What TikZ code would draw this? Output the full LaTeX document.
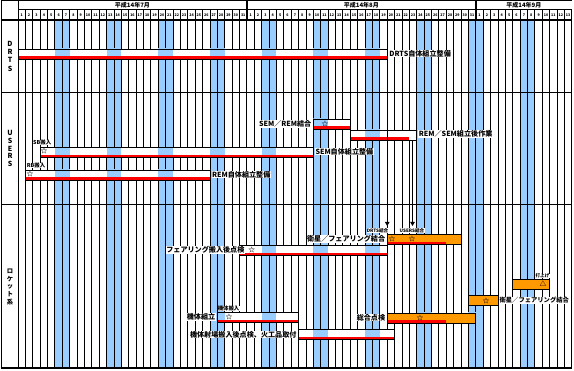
\documentclass[tikz,border=0pt]{standalone}
\usepackage{fontspec}
\setmainfont{Noto Sans CJK JP}
\usepackage{xcolor}
\usepackage{tikz}
\usetikzlibrary{arrows.meta, positioning}
\definecolor{kyuujitsu}{RGB}{153,204,255}
\definecolor{daidai}{RGB}{255,153,0}
\definecolor{aka}{RGB}{255,0,0}
\def\haba{7.385}
\newcommand{\yasumi}{%
  \foreach \d in {6,7,13,14,20,21,27,28,34,35,41,42,48,49,55,56,62,63,69,70}
    \fill[kyuujitsu] ({18+(\d-1)*\haba},20) rectangle ({18+\d*\haba},368);%
}
\newcommand{\sagyo}[5]{%
  \fill[white] ({18+#1*\haba},#3) rectangle ({18+#2*\haba},#3+10);
  \begin{scope}
    \clip ({18+#1*\haba},#3) rectangle ({18+#2*\haba},#3+10);
    \yasumi
  \end{scope}
  \path[fill=#5] ({18+#1*\haba},#3) rectangle ({18+#2*\haba},#3+10);
  \fill[aka] ({18+#1*\haba},#3+7.5) rectangle ({18+#4*\haba},#3+10);
  \draw[line width=0.8pt] ({18+#1*\haba},#3) rectangle ({18+#2*\haba},#3+10);%
}

\begin{document}
\begin{tikzpicture}[x=1pt, y=-1pt,
    mei/.style={font=\fontsize{7.1}{7.1}\selectfont\bfseries, inner sep=0.4pt, fill=white},
    komei/.style={font=\fontsize{4.6}{4.6}\selectfont\bfseries, inner sep=0.2pt, fill=white},
    hannyu/.style={font=\fontsize{5.4}{5.4}\selectfont\bfseries, inner sep=0.2pt, fill=white},
    hoshi/.style={font=\fontsize{6.8}{6.8}\selectfont\bfseries, inner sep=0pt},
    hizuke/.style={font=\fontsize{3.6}{3.6}\selectfont\bfseries, inner sep=0pt},
    tsuki/.style={font=\fontsize{6}{6}\selectfont\bfseries, inner sep=0pt},
    kubun/.style={align=center, inner sep=0pt},
    yajirushi/.style={line width=1pt, -{Triangle[width=4.5pt,length=4pt]}}]
  \useasboundingbox (0,0) rectangle (574,371);
  \fill[white] (0,0) rectangle (574,371);
  \yasumi
  \foreach \n in {0,...,75}
    \draw[line width=1pt] ({18+\n*\haba},10) -- ({18+\n*\haba},368);
  \draw[line width=1pt] (1,1) -- ({18+75*\haba},1);
  \draw[line width=1pt] (1,1) -- (1,368);
  \draw[line width=1pt] (18,1) -- (18,10);
  \draw[line width=1pt] (18,10) -- ({18+75*\haba},10);
  \draw[line width=1pt] (1,93) -- ({18+75*\haba},93);
  \draw[line width=1pt] (1,205) -- ({18+75*\haba},205);
  \draw[line width=2pt] (0.5,20.5) -- ({18+75*\haba},20.5);
  \draw[line width=2pt] (0.5,368.5) -- ({18+75*\haba},368.5);
  \foreach \n in {31,62}
    \draw[line width=2pt] ({18+\n*\haba},0) -- ({18+\n*\haba},20);

  \node[tsuki] (tsuki7) at ({18+15.5*\haba},5.5) {平成14年7月};
  \node[tsuki] (tsuki8) at ({18+46.5*\haba},5.5) {平成14年8月};
  \node[tsuki] (tsuki9) at ({18+68.5*\haba},5.5) {平成14年9月};
  \foreach \t/\m in {0/31,31/31,62/13}
    \foreach \n in {1,...,\m}
      \node[hizuke] (hi-\t-\n) at ({18+(\t+\n-0.5)*\haba},15.5) {\n};

  \node[kubun, font=\fontsize{7}{8.3}\selectfont\bfseries] (drtsKubun) at (10,56) {D\\R\\T\\S};
  \node[kubun, font=\fontsize{7}{7.8}\selectfont\bfseries] (usersKubun) at (10,148.5) {U\\S\\E\\R\\S};
  \node[kubun, font=\fontsize{6.3}{7.8}\selectfont\bfseries] (rocketKubun) at (10,287) {ロ\\ケ\\ッ\\ト\\系};

  \sagyo{0}{50}{49}{50}{none}
  \sagyo{40}{45}{119}{45}{none}
  \sagyo{45}{50}{130}{50}{none}
  \sagyo{50}{54}{130}{53}{none}
  \sagyo{3}{40}{147.3}{40}{none}
  \sagyo{1}{26}{170}{26}{none}
  \sagyo{50}{60}{234.3}{58}{daidai}
  \sagyo{30}{50}{245.5}{50}{none}
  \sagyo{67}{72}{279.5}{67}{daidai}
  \sagyo{61}{65}{295.5}{61}{daidai}
  \sagyo{50}{62}{313}{58}{daidai}
  \sagyo{27}{38}{312.3}{38}{none}
  \sagyo{38}{51}{329.5}{51}{none}

  \node[mei, anchor=west] (drtsMei) at ({18+50*\haba+1.5},53.5) {DRTS自体組立整備};
  \node[mei, anchor=east] (ketsugoMei) at ({18+40*\haba-1.5},124) {SEM／REM結合};
  \node[mei, anchor=west] (sagyoMei) at ({18+54*\haba+1.5},134) {REM／SEM組立後作業};
  \node[mei, anchor=west] (semMei) at ({18+40*\haba+1.5},151.5) {SEM自体組立整備};
  \node[hannyu, anchor=west] (sbMei) at ({18+2*\haba},142.5) {SB搬入};
  \node[mei, anchor=west] (remMei) at ({18+26*\haba+1.5},174.5) {REM自体組立整備};
  \node[hannyu, anchor=west] (rbMei) at ({18+1*\haba+1},165.5) {RB搬入};

  \node[komei] (drtsKetsu) at (377.5,230.3) {DRTS結合};
  \node[komei] (usersKetsu) at (412,230.3) {USERS結合};
  \node[mei, anchor=east] (eiseiMei) at ({18+50*\haba-1.5},239) {衛星／フェアリング結合};
  \node[mei, anchor=east] (fairMei) at (245,250) {フェアリング搬入後点検};
  \node[komei] (uchiageMei) at (542.5,276) {打上げ};
  \node[mei, anchor=west, font=\fontsize{6.3}{6.3}\selectfont\bfseries] (eisei2Mei) at ({18+65*\haba+1},300.5) {衛星／フェアリング結合};
  \node[mei, anchor=east] (sogoMei) at ({18+50*\haba-1.5},317.5) {総合点検};
  \node[mei, anchor=east] (kumitateMei) at ({18+27*\haba-1.5},317) {機体組立};
  \node[hannyu, anchor=west] (hannyuMei) at ({18+27*\haba},308.5) {機体搬入};
  \node[mei, anchor=east] (shajoMei) at ({18+38*\haba-1.5},334.5) {機体射場搬入後点検、火工品取付};

  \node[hoshi] (hoshiSem) at (44,151) {☆};
  \node[hoshi] (hoshiRem) at (30,173.5) {☆};
  \node[hoshi] (hoshiKetsugo) at (325,123.5) {☆};
  \node[hoshi] (hoshiEisei1) at (392,238.8) {☆};
  \node[hoshi] (hoshiEisei2) at (412,238.8) {☆};
  \node[hoshi] (hoshiFair) at (251.7,250) {☆};
  \node[hoshi] (sankaku) at (543,284) {△};
  \node[hoshi] (hoshiEisei3) at (486,300.5) {☆};
  \node[hoshi] (hoshiSogo) at (420,317.5) {☆};
  \node[hoshi] (hoshiKumitate) at (229,316.8) {☆};

  \coordinate (drtsOwari) at ({18+50*\haba},59);
  \coordinate (drtsSaki) at ({18+50*\haba},226);
  \draw[yajirushi] (drtsOwari) -- (drtsSaki);
  \coordinate (usersOwari) at (412.5,140);
  \coordinate (usersSaki) at (412.5,226);
  \draw[yajirushi] (usersOwari) -- (usersSaki);
\end{tikzpicture}
\end{document}
